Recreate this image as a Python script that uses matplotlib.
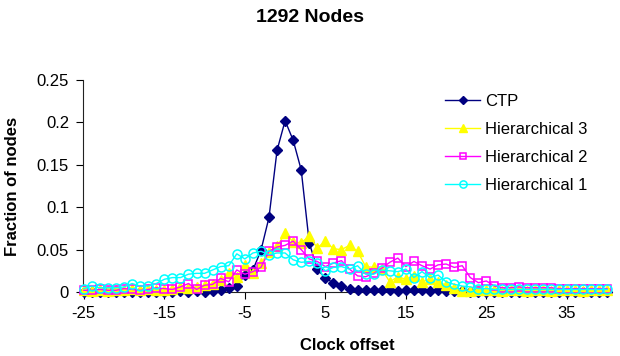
import numpy as np
import matplotlib
matplotlib.use("Agg")
import matplotlib.pyplot as plt

plt.rcParams['font.family'] = ['Liberation Sans', 'DejaVu Sans']
plt.rcParams['axes.unicode_minus'] = False

# clock offset categories
offsets = np.arange(-25, 41)

ctp = [0, 0, 0, 0, 0, 0, 0, 0, 0, 0, 0, 0,
       0.001, 0, 0.001, 0, 0.001, 0.002, 0.005, 0.007, 0.020, 0.026, 0.049, 0.088, 0.167,
       0.202, 0.179, 0.144, 0.058, 0.027, 0.016, 0.011, 0.007, 0.003,
       0.002, 0.002, 0.002, 0.002, 0.002, 0.001, 0.002, 0.002, 0.002, 0.001, 0.002, 0.001, 0.001, 0.001,
       0, 0, 0, 0, 0, 0, 0, 0, 0, 0, 0, 0, 0, 0, 0, 0, 0, 0]

hier3 = [0.002, 0.001, 0.002, 0.001, 0.002, 0.002, 0.003, 0.002, 0.003, 0.002,
         0.002, 0.004, 0.006, 0.005, 0.006, 0.008, 0.010, 0.014, 0.022, 0.018, 0.032, 0.022, 0.034, 0.047, 0.054,
         0.069, 0.059, 0.058, 0.066, 0.052, 0.060, 0.051, 0.050, 0.055, 0.048, 0.030, 0.029, 0.027, 0.012, 0.018,
         0.015, 0.019, 0.012, 0.015, 0.012, 0.008, 0.005, 0.001, 0.001, 0.002, 0.002,
         0.002, 0.001, 0.002, 0.002, 0.001, 0.002, 0.002, 0.001, 0.002, 0.002, 0.002, 0.001, 0.002, 0.002, 0.002]

hier2 = [0.002, 0.002, 0.003, 0.002, 0.002, 0.004, 0.003, 0.002, 0.003, 0.005,
         0.004, 0.003, 0.006, 0.010, 0.003, 0.008, 0.009, 0.016, 0.012, 0.026, 0.021, 0.024, 0.029, 0.048, 0.053,
         0.055, 0.060, 0.050, 0.039, 0.036, 0.030, 0.034, 0.037, 0.027, 0.019, 0.018, 0.022, 0.028, 0.035, 0.040,
         0.030, 0.036, 0.031, 0.027, 0.032, 0.033, 0.029, 0.031, 0.017, 0.011, 0.013,
         0.007, 0.005, 0.005, 0.006, 0.005, 0.005, 0.005, 0.005, 0.004, 0.004, 0.004, 0.004, 0.004, 0.004, 0.004]

hier1 = [0.004, 0.007, 0.005, 0.005, 0.005, 0.006, 0.010, 0.007, 0.007, 0.010,
         0.015, 0.017, 0.017, 0.021, 0.022, 0.022, 0.026, 0.030, 0.031, 0.045, 0.039, 0.046, 0.048, 0.044, 0.046,
         0.046, 0.038, 0.035, 0.036, 0.034, 0.025, 0.029, 0.030, 0.027, 0.031, 0.021, 0.021, 0.026, 0.025, 0.024,
         0.027, 0.017, 0.024, 0.017, 0.020, 0.012, 0.009, 0.007, 0.006, 0.004, 0.004,
         0.003, 0.003, 0.003, 0.003, 0.003, 0.003, 0.003, 0.003, 0.003, 0.003, 0.003, 0.003, 0.003, 0.003, 0.003]

xticks = [-25, -15, -5, 5, 15, 25, 35]
yticks = [0, 0.05, 0.1, 0.15, 0.2, 0.25]
ytick_labels = ['0', '0.05', '0.1', '0.15', '0.2', '0.25']

fig = plt.figure(figsize=(6.2, 3.56), dpi=100)
ax = fig.add_axes([83 / 620, 64 / 356, 529 / 620, 212 / 356])

ax.plot(offsets, ctp, color='#000080', lw=1, marker='D', ms=5.5,
        mfc='#000080', mec='#000080', label='CTP', clip_on=False, zorder=3)
ax.plot(offsets, hier3, color='#FFFF00', lw=1, marker='^', ms=7,
        mfc='#FFFF00', mec='#FFFF00', label='Hierarchical 3', clip_on=False, zorder=4)
ax.plot(offsets, hier2, color='#FF00FF', lw=1, marker='s', ms=6,
        mfc='none', mec='#FF00FF', mew=1.1, label='Hierarchical 2', clip_on=False, zorder=5)
ax.plot(offsets, hier1, color='#00FFFF', lw=1, marker='o', ms=6.5,
        mfc='none', mec='#00FFFF', mew=1.1, label='Hierarchical 1', clip_on=False, zorder=6)

ax.set_xlim(-25.1, 40.6)
ax.set_ylim(0, 0.25)
ax.set_xticks(xticks)
ax.set_yticks(yticks)
ax.set_yticklabels(ytick_labels)
ax.tick_params(axis='both', labelsize=12, direction='out', length=5, width=0.8, pad=5)

for s in ['top', 'right']:
    ax.spines[s].set_visible(False)
for s in ['left', 'bottom']:
    ax.spines[s].set_color('#222222')
    ax.spines[s].set_linewidth(0.8)

ax.set_xlabel('Clock offset', fontsize=12, fontweight='bold', labelpad=12)
ax.set_ylabel('Fraction of nodes', fontsize=12, fontweight='bold', labelpad=12)

fig.text(0.5, 1 - 18 / 356, '1292 Nodes', ha='center', va='center',
         fontsize=14, fontweight='bold')

fig.legend(loc='upper left', bbox_to_anchor=(445 / 620, 1 - 94 / 356),
           frameon=False, fontsize=12, handlelength=2.1, handletextpad=0.3,
           labelspacing=0.78, borderpad=0, borderaxespad=0, markerscale=0.8)

plt.savefig('out.png', dpi=100)
